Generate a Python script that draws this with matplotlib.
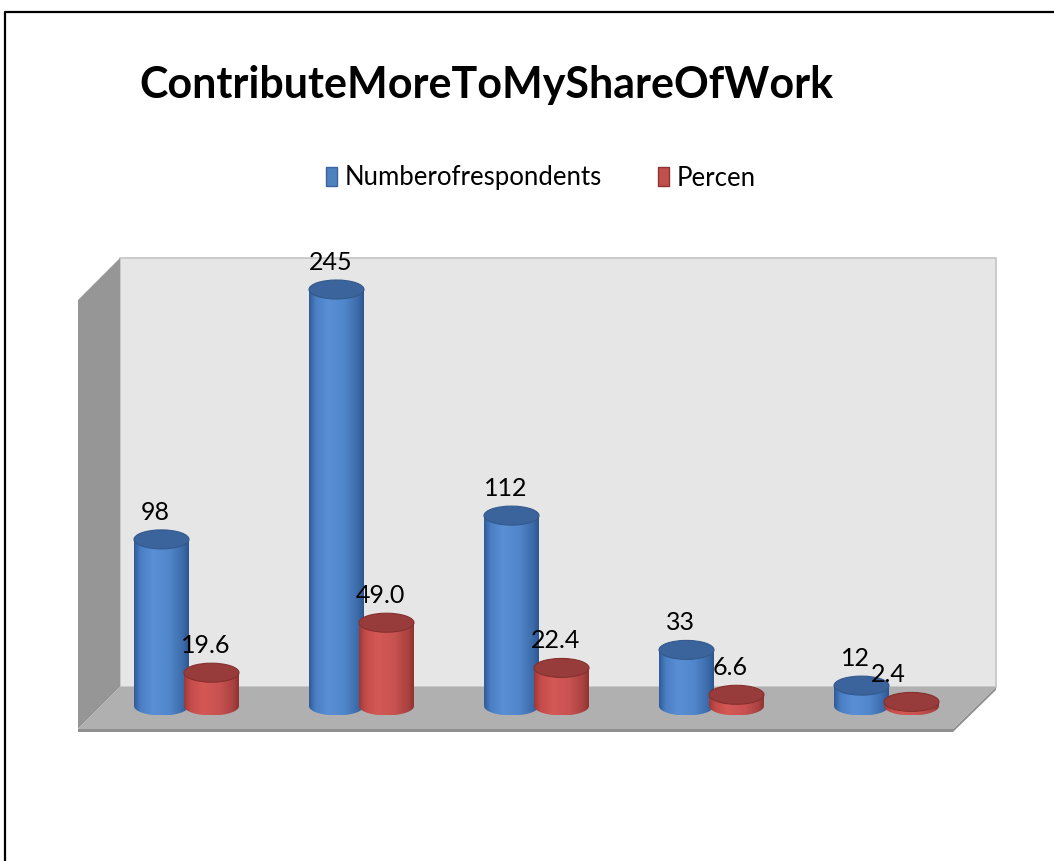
import numpy as np
import matplotlib
matplotlib.use('Agg')
import matplotlib.pyplot as plt
from matplotlib.patches import Polygon, Ellipse, Patch
from matplotlib.colors import LinearSegmentedColormap
from matplotlib.lines import Line2D

# ---------------- data ----------------
categories = ['1', '2', '3', '4', '5']
respondents = [98, 245, 112, 33, 12]
percent = [19.6, 49.0, 22.4, 6.6, 2.4]
series_names = ['Numberofrespondents', 'Percen']
title = 'ContributeMoreToMyShareOfWork'

# ---------------- layout ----------------
W, H = 1054, 861
fig = plt.figure(figsize=(W / 100, H / 100), dpi=100)
ax = fig.add_axes([0, 0, 1, 1])
ax.set_axis_off()

PXU = 175.0   # px per category
PXV = 1.70    # px per value unit
X0 = 186.5    # px of category 0 centre
Y0 = 706.0    # px of value 0
XLIM = (-X0 / PXU, (W - X0) / PXU)
YLIM = ((Y0 - H) / PXV, Y0 / PXV)


def fp(x, y):
    return (x / W, 1 - y / H)


def poly(pts, fc, ec='none', lw=0, z=0):
    ax.add_patch(Polygon([fp(*p) for p in pts], closed=True,
                         transform=fig.transFigure, fc=fc, ec=ec, lw=lw,
                         zorder=z))


# 3D walls
poly([(120, 258), (996, 258), (996, 687), (120, 687)], '#e6e6e6', '#c4c4c4', 1.2)
poly([(78, 300), (120, 258), (120, 687), (78, 729)], '#969696')
poly([(78, 732), (953, 732), (996, 690), (996, 687), (953, 729), (78, 729)], '#8f8f8f')
poly([(120, 687), (996, 687), (953, 729), (78, 729)], '#b0b0b0')

# chart border
fig.add_artist(Line2D([5 / W, 5 / W, 1], [0, 1 - 12 / H, 1 - 12 / H],
                      transform=fig.transFigure, color='black', lw=1.6))

blue_cmap = LinearSegmentedColormap.from_list('b', [
    (0.0, '#2f5a96'), (0.12, '#4a7fc4'), (0.35, '#5a8fd6'),
    (0.65, '#5086cb'), (0.9, '#3b6aa8'), (1.0, '#2c5590')])
red_cmap = LinearSegmentedColormap.from_list('r', [
    (0.0, '#9c3836'), (0.12, '#c44c4a'), (0.35, '#d45856'),
    (0.65, '#c85250'), (0.9, '#a84240'), (1.0, '#8e3230')])

idx = np.arange(len(categories))
off = 25 / PXU
bw = 55 / PXU
eb = 9.5 / PXV
grad = np.linspace(0, 1, 256).reshape(1, -1)

series = [
    (respondents, -off, blue_cmap, '#3b649c', '#34598c', '{:d}', 2),
    (percent, off, red_cmap, '#973c3a', '#86302e', '{:.1f}', 3),
]
label_dx = {(1, 4): -12}

for si, (vals, dx, cmap, topc, tope, fmt, z) in enumerate(series):
    bars = ax.bar(idx + dx, vals, width=bw, color='none', zorder=z)
    for bi, rect in enumerate(bars):
        x0 = rect.get_x()
        w = rect.get_width()
        h = rect.get_height()
        xc = x0 + w / 2
        t = np.linspace(0, np.pi, 60)
        pts = [(x0, h)] + [(xc - w / 2 * np.cos(a), -eb * np.sin(a)) for a in t] + [(x0 + w, h)]
        clip = Polygon(pts, closed=True, fc='none', ec='none', zorder=z)
        ax.add_patch(clip)
        im = ax.imshow(grad, extent=[x0, x0 + w, -eb, h], aspect='auto',
                       cmap=cmap, zorder=z, interpolation='bilinear')
        im.set_clip_path(clip)
        ax.add_patch(Ellipse((xc, h), w, 2 * eb, fc=topc, ec=tope, lw=0.8,
                             zorder=z + 0.1))
        txt = fmt.format(int(vals[bi]) if fmt == '{:d}' else vals[bi])
        ax.annotate(txt, (xc, h), xytext=(-4.5 + label_dx.get((si, bi), 0), 14),
                    textcoords='offset points', ha='center', va='baseline',
                    fontsize=18, family='Lato', color='black', zorder=10)

ax.set_xlim(*XLIM)
ax.set_ylim(*YLIM)

# legend
handles = [Patch(fc='#4f81bd', ec='#3a64a0'), Patch(fc='#c0504d', ec='#8e3432')]
fig.legend(handles, series_names, loc='center', bbox_to_anchor=fp(541, 178),
           ncol=2, frameon=False, prop=dict(family='Lato', size=18.5),
           handlelength=0.43, handleheight=0.78, handletextpad=0.3,
           columnspacing=2.2)

# title
fig.text(*fp(486, 98), title, ha='center', va='baseline', fontsize=31,
         fontweight='bold', family='Lato')

fig.savefig('out.png', dpi=100)
